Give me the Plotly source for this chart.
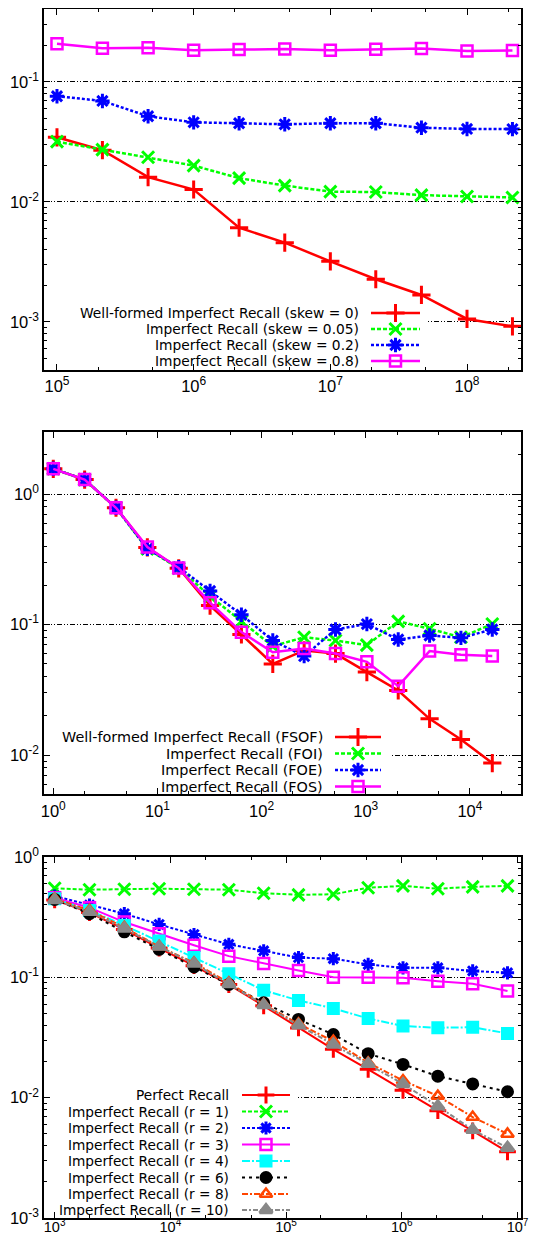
import plotly.graph_objects as go
from plotly.subplots import make_subplots

W, H = 556, 1234
FONT = "Liberation Sans, Arial, sans-serif"
KEYFONT = "DejaVu Sans, sans-serif"

# --- panel 1 data
sizes1 = [1e5, 2.15e5, 4.64e5, 1e6, 2.15e6, 4.64e6, 1e7, 2.15e7, 4.64e7, 1e8, 2.15e8]
wf_skew0 = [0.0346, 0.027, 0.0161, 0.0127, 0.0061, 0.00458, 0.0032, 0.00227, 0.00168, 0.00106, 0.00092]
ir_skew005 = [0.0318, 0.0273, 0.0236, 0.0201, 0.0158, 0.0137, 0.0122, 0.0121, 0.0114, 0.0111, 0.0109]
ir_skew02 = [0.076, 0.0695, 0.0518, 0.0461, 0.0453, 0.0444, 0.0453, 0.0453, 0.0416, 0.0406, 0.0405]
ir_skew08 = [0.208, 0.191, 0.193, 0.184, 0.186, 0.188, 0.184, 0.187, 0.19, 0.181, 0.183]

# --- panel 2 data
sizes2 = [1, 2, 4, 8, 16, 32, 64, 128, 256, 512, 1024, 2048, 4096, 8192, 16384]
wf_fsof = [1.56, 1.29, 0.785, 0.39, 0.27, 0.14, 0.084, 0.050, 0.0634, 0.060, 0.0433, 0.0313, 0.019, 0.0132, 0.0087]
ir_foi = [1.56, 1.29, 0.785, 0.38, 0.27, 0.165, 0.106, 0.0684, 0.080, 0.0755, 0.0697, 0.106, 0.093, 0.080, 0.101]
ir_foe = [1.56, 1.29, 0.785, 0.38, 0.275, 0.181, 0.119, 0.0755, 0.0574, 0.0918, 0.101, 0.0769, 0.0825, 0.0792, 0.0918]
ir_fos = [1.56, 1.29, 0.785, 0.393, 0.271, 0.147, 0.0876, 0.0615, 0.0656, 0.060, 0.0519, 0.0338, 0.0627, 0.0587, 0.0574]

# --- panel 3 data
sizes3 = [1e3, 2e3, 4e3, 8e3, 1.6e4, 3.2e4, 6.4e4, 1.28e5, 2.56e5, 5.12e5, 1.024e6, 2.048e6, 4.096e6, 8.192e6]
perfect = [0.44, 0.345, 0.25, 0.175, 0.125, 0.087, 0.058, 0.038, 0.0252, 0.0172, 0.0115, 0.0078, 0.0053, 0.00355]
ir_r1 = [0.55, 0.535, 0.54, 0.545, 0.54, 0.535, 0.50, 0.485, 0.49, 0.555, 0.575, 0.545, 0.565, 0.575]
ir_r2 = [0.474, 0.399, 0.338, 0.275, 0.227, 0.188, 0.166, 0.146, 0.143, 0.128, 0.12, 0.12, 0.113, 0.109]
ir_r3 = [0.459, 0.379, 0.288, 0.23, 0.185, 0.150, 0.130, 0.114, 0.100, 0.100, 0.099, 0.093, 0.0885, 0.077]
ir_r4 = [0.45, 0.36, 0.27, 0.20, 0.146, 0.107, 0.078, 0.0643, 0.0552, 0.0455, 0.0394, 0.0381, 0.0385, 0.0342]
ir_r6 = [0.444, 0.338, 0.239, 0.171, 0.122, 0.0873, 0.0615, 0.0447, 0.0335, 0.0232, 0.0189, 0.0151, 0.013, 0.0112]
ir_r8 = [0.45, 0.36, 0.26, 0.18, 0.132, 0.090, 0.0596, 0.0411, 0.0295, 0.0195, 0.0139, 0.0103, 0.0069, 0.0050]
ir_r10 = [0.44, 0.35, 0.255, 0.18, 0.13, 0.088, 0.059, 0.040, 0.0277, 0.0191, 0.013, 0.0085, 0.0054, 0.00384]

RED, GREEN, BLUE, MAG = "#ff0000", "#00ff00", "#0000ff", "#ff00ff"
# dash patterns close to gnuplot's
D_GREEN, D_BLUE = "4px,2px", "3px,2px"

# (label, y, color, dash, symbol, marker size)
panel1 = [
    ("Well-formed Imperfect Recall (skew = 0)", wf_skew0, RED, "solid", "cross-thin", 13),
    ("Imperfect Recall (skew = 0.05)", ir_skew005, GREEN, D_GREEN, "x-thin", 12),
    ("Imperfect Recall (skew = 0.2)", ir_skew02, BLUE, D_BLUE, "asterisk", 12),
    ("Imperfect Recall (skew = 0.8)", ir_skew08, MAG, "solid", "square-open", 11),
]
panel2 = [
    ("Well-formed Imperfect Recall (FSOF)", wf_fsof, RED, "solid", "cross-thin", 13),
    ("Imperfect Recall (FOI)", ir_foi, GREEN, D_GREEN, "x-thin", 12),
    ("Imperfect Recall (FOE)", ir_foe, BLUE, D_BLUE, "asterisk", 12),
    ("Imperfect Recall (FOS)", ir_fos, MAG, "solid", "square-open", 11),
]
panel3 = [
    ("Perfect Recall", perfect, RED, "solid", "cross-thin", 12),
    ("Imperfect Recall (r = 1)", ir_r1, GREEN, D_GREEN, "x-thin", 12),
    ("Imperfect Recall (r = 2)", ir_r2, BLUE, D_BLUE, "asterisk", 11),
    ("Imperfect Recall (r = 3)", ir_r3, MAG, "solid", "square-open", 11),
    ("Imperfect Recall (r = 4)", ir_r4, "#00ffff", "8px,2px,2px,2px", "square", 10),
    ("Imperfect Recall (r = 6)", ir_r6, "#000000", "3px,4px", "circle", 10),
    ("Imperfect Recall (r = 8)", ir_r8, "#ff4500", "6px,2px,2px,2px", "triangle-up-open", 11),
    ("Imperfect Recall (r = 10)", ir_r10, "#888888", "5px,2px,2px,2px", "triangle-up", 11),
]

fig = make_subplots(rows=3, cols=1)


def mk_marker(color, sym, ms):
    mlw = 2.5 if "open" in sym else 3
    return dict(symbol=sym, size=ms, color=color, line=dict(color=color, width=mlw))


def add_series(row, xs, specs, lw):
    for name, ys, color, dash, sym, ms in specs:
        fig.add_trace(go.Scatter(x=xs, y=ys, mode="lines+markers", name=name, showlegend=False,
                                 line=dict(color=color, width=lw, dash=dash),
                                 marker=mk_marker(color, sym, ms)),
                      row=row, col=1)


add_series(1, sizes1, panel1, 2.5)
add_series(2, sizes2, panel2, 2.5)
add_series(3, sizes3, panel3, 2)


def pw(e, sup=12):
    return "10<sup><span style='font-size:%dpx'>%d</span></sup>" % (sup, e)


axis_common = dict(type="log", showline=True, linecolor="black", linewidth=1.5, mirror="ticks",
                   ticks="inside", ticklen=6, tickcolor="black", tickwidth=1,
                   tickfont=dict(family=FONT, size=16.5, color="black"), zeroline=False,
                   minor=dict(ticks="inside", ticklen=3, tickcolor="black", showgrid=False))

# pixel positions of the three plot boxes (top, bottom)
boxes = [(1, 362), (424, 786), (849, 1210)]
PX0, PX1 = 36, 513
xdom = [PX0 / W, PX1 / W]
xranges = [[4.905, 8.395], [-0.089, 4.49], [2.908, 7.03]]
yranges = [[-3.4, -0.392], [-2.297, 0.475], [-3, 0]]
xexp = [[5, 6, 7, 8], [0, 1, 2, 3, 4], [3, 4, 5, 6, 7]]
yexp = [[-3, -2, -1], [-2, -1, 0], [-3, -2, -1, 0]]
xstandoff = [0, 1, -5]
xfont = [16.5, 16.5, 14.5]
xsup = [12, 12, 10]

for i in range(3):
    top, bot = boxes[i]
    xa = dict(axis_common, domain=xdom, range=xranges[i], showgrid=False,
              ticklabelstandoff=xstandoff[i],
              tickfont=dict(family=FONT, size=xfont[i], color="black"),
              tickvals=[10 ** e for e in xexp[i]], ticktext=[pw(e, xsup[i]) for e in xexp[i]])
    xa["minor"] = dict(axis_common["minor"], dtick="D2")
    ya = dict(axis_common, domain=[1 - bot / H, 1 - top / H], range=yranges[i],
              showgrid=True, gridcolor="black", gridwidth=0.8, griddash="5px,2px,1px,2px,1px,2px",
              tickvals=[10 ** e for e in yexp[i]], ticktext=[pw(e) for e in yexp[i]])
    ya["minor"] = dict(axis_common["minor"], dtick="D1")
    fig.update_xaxes(xa, row=i + 1, col=1)
    fig.update_yaxes(ya, row=i + 1, col=1)

# opaque key boxes hiding the grid lines (like gnuplot "key opaque")
key_boxes = [(420, 296), (383, 720), (290, 1078)]
for i, (right, ktop) in enumerate(key_boxes):
    top, bot = boxes[i]
    xr0, xr1 = xranges[i]
    yr0, yr1 = yranges[i]

    def px2x(px):
        return 10 ** (xr0 + (px - PX0) / (PX1 - PX0) * (xr1 - xr0))

    def py2y(py):
        return 10 ** (yr1 - (py - top) / (bot - top) * (yr1 - yr0))

    sfx = "" if i == 0 else str(i + 1)
    fig.add_shape(type="rect", xref="x" + sfx, yref="y" + sfx,
                  x0=px2x(PX0 + 1.5), x1=px2x(right), y0=py2y(bot - 1.5), y1=py2y(ktop),
                  fillcolor="white", line_width=0, layer="between")

# overlay axes in pixel units for the hand-drawn keys
fig.update_layout(
    xaxis4=dict(domain=[0, 1], range=[0, W], visible=False, fixedrange=True, anchor="y4"),
    yaxis4=dict(domain=[0, 1], range=[H, 0], visible=False, fixedrange=True, anchor="x4"),
)

# (text right edge, line x0, line x1, row y positions, font size)
keys = [
    (353, 363, 412, [305, 321, 337, 353], panel1, 2.5, 13.8),
    (317, 327, 373, [729, 745.5, 762, 778.5], panel2, 2.5, 14.4),
    (223, 234, 282, [1087, 1103.5, 1120, 1136.5, 1153, 1169.5, 1186, 1202], panel3, 2, 13.7),
]
for tx, lx0, lx1, rows, specs, lw, fs in keys:
    for yy, (name, ys, color, dash, sym, ms) in zip(rows, specs):
        fig.add_trace(go.Scatter(x=[lx0, lx1], y=[yy, yy], mode="lines", showlegend=False,
                                 line=dict(color=color, width=lw, dash=dash),
                                 xaxis="x4", yaxis="y4", hoverinfo="skip"))
        fig.add_trace(go.Scatter(x=[(lx0 + lx1) / 2], y=[yy], mode="markers", showlegend=False,
                                 marker=mk_marker(color, sym, ms),
                                 xaxis="x4", yaxis="y4", hoverinfo="skip"))
        fig.add_annotation(x=tx, y=yy, xref="x4", yref="y4", text=name, showarrow=False,
                           xanchor="right", yanchor="middle",
                           font=dict(family=KEYFONT, size=fs, color="black"))

fig.update_layout(width=W, height=H, margin=dict(l=0, r=0, t=0, b=0),
                  template="none", plot_bgcolor="rgba(0,0,0,0)", paper_bgcolor="white",
                  showlegend=False, font=dict(family=FONT, size=14, color="black"))

fig.write_html("out.html")
